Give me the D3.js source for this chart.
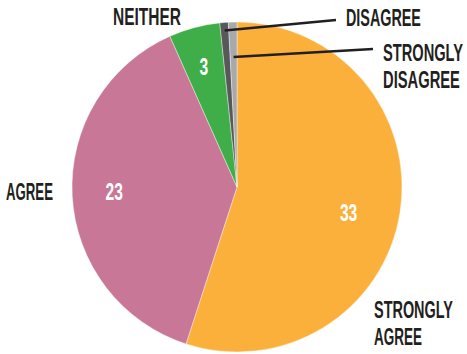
<!DOCTYPE html>
<html>
<head>
<meta charset="utf-8">
<script src="https://cdn.jsdelivr.net/npm/d3@7"></script>
<style>
  body { margin: 0; background: #fff; }
  text { font-family: "Liberation Sans Narrow", "Liberation Sans", Arial, sans-serif; font-weight: bold; }
</style>
</head>
<body>
<svg width="467" height="354"></svg>
<script>

var categories = ["STRONGLY AGREE", "AGREE", "NEITHER", "DISAGREE", "STRONGLY DISAGREE"],
    values = [33, 23, 3, 0.5, 0.5],
    valueLabels = ["33", "23", "3", "", ""],
    colors = ["#fbb03b", "#c87896", "#3fae49", "#58585a", "#a7a9ac"];

var svg = d3.select("svg"),
    cx = 237, cy = 187, radius = 165;

var pie = d3.pie().sort(null).value(function (d) { return d; });
var arc = d3.arc().innerRadius(0).outerRadius(radius);
var arcs = pie(values);

var g = svg.append("g").attr("transform", "translate(" + cx + "," + cy + ")");

g.selectAll("path")
    .data(arcs)
    .enter().append("path")
    .attr("d", arc)
    .attr("fill", function (d, i) { return colors[i]; })
    .attr("stroke", "#fff")
    .attr("stroke-width", 0.4);

// value labels inside slices (radius + small y nudge per slice)
var valueRadius = [113, 123, 128, 0, 0],
    valueNudge = [8, -2, 3, 0, 0];
function polar(a, r) { return [r * Math.sin(a), -r * Math.cos(a)]; }

g.selectAll("text.value")
    .data(arcs)
    .enter().append("text")
    .attr("class", "value")
    .attr("transform", function (d, i) {
        var p = polar((d.startAngle + d.endAngle) / 2, valueRadius[i]);
        return "translate(" + p[0] + "," + (p[1] + valueNudge[i]) + ") scale(0.68,1)";
    })
    .attr("text-anchor", "middle")
    .attr("dy", "0.36em")
    .attr("fill", "#fff")
    .style("font-size", "23px")
    .text(function (d, i) { return valueLabels[i]; });

// category labels: page position, lines, target widths (condensed look)
var labelPos = [[374, 318], [6, 200], [113, 25], [346, 26], [383, 61]];
var labelLines = [["STRONGLY", "AGREE"], ["AGREE"], ["NEITHER"], ["DISAGREE"], ["STRONGLY", "DISAGREE"]];
var labelWidths = [[79, 48], [47], [68], [75], [80, 77]];

labelLines.forEach(function (lines, i) {
    lines.forEach(function (l, j) {
        var t = svg.append("text")
            .attr("fill", "#231f20")
            .style("font-size", "23px")
            .text(l);
        var k = labelWidths[i][j] / t.node().getComputedTextLength();
        t.attr("transform", "translate(" + labelPos[i][0] + "," + (labelPos[i][1] + j * 27) + ") scale(" + k + ",1)");
    });
});

// leader lines for the tiny slices
var leaders = [{ i: 3, r: 157, to: [336, 20] }, { i: 4, r: 130, to: [373, 49] }];
leaders.forEach(function (l) {
    var d = arcs[l.i];
    var p = polar((d.startAngle + d.endAngle) / 2, l.r);
    svg.append("line")
        .attr("x1", cx + p[0]).attr("y1", cy + p[1])
        .attr("x2", l.to[0]).attr("y2", l.to[1])
        .attr("stroke", "#231f20")
        .attr("stroke-width", 2.5);
});

</script>
</body>
</html>
